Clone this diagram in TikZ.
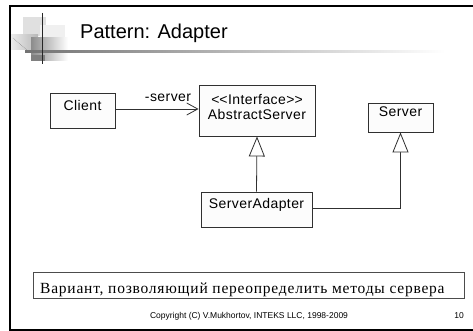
\documentclass[tikz,border=0pt]{standalone}
\usepackage{fontspec}
\setmainfont{Liberation Serif}[LetterSpace=5]
\newfontfamily\umlfont{Liberation Sans}[LetterSpace=3]
\newfontfamily\titlefont{Liberation Sans}
\newfontfamily\footfont{Liberation Sans}
\usetikzlibrary{arrows.meta,shadings}
\definecolor{boxfill}{HTML}{FCFCFC}
\definecolor{lineink}{HTML}{303030}
\tikzset{
  umlbox/.style={draw=lineink, line width=0.9pt, fill=boxfill, inner sep=0pt,
    font=\umlfont\fontsize{14}{16}\selectfont},
  umltext/.style={font=\umlfont\fontsize{14}{16}\selectfont, inner sep=0pt},
  assoc/.style={draw=lineink, line width=0.8pt, -{Straight Barb[length=11pt,width=12pt,line width=0.8pt]}},
  inherit/.style={draw=lineink, line width=0.8pt, -{Triangle[open,length=20pt,width=16pt,line width=0.8pt,fill=white]}},
}
\begin{document}
\begin{tikzpicture}[x=1pt,y=-1pt]
\useasboundingbox (0,0) rectangle (473,331);
\fill[white] (0,0) rectangle (473,331);

% decorative squares next to the title
\fill[black!12] (23,17) rectangle (46,36);
\fill[black!6] (40,25) rectangle (65,40);
\shade[left color=black!8, right color=black!28] (11,35) rectangle (38,50);
\shade[left color=black!45, right color=white] (31,38) rectangle (68,61);
\fill[black!50] (31,55) rectangle (45,61);
\draw[black!45, densely dotted, line width=0.6pt] (13,38) -- (28,51);
\shade[left color=black!55, right color=white] (25,51) rectangle (445,52.2);
\draw[black!85, line width=1.6pt] (42.5,13) -- (42.5,64);

% slide frame
\draw[black, line width=2pt] (9.5,331) -- (9.5,6) -- (473,6);
\draw[black, line width=2pt] (9.5,330) -- (473,330);

% title
\node[font=\titlefont\fontsize{20}{24}\selectfont, anchor=base west, inner sep=0pt] (title) at (80,39) {Pattern: Adapter};

% classes
\node[umlbox, minimum width=65pt, text height=18pt, text depth=17pt] (client) at (82.5,110.5) {Client};
\node[umlbox, minimum width=116pt, minimum height=51pt] (abstract) at (257,110.5) {};
\node[umltext, anchor=base] (stereo) at (257,105) {<\kern0pt<Interface>\kern0pt>};
\node[umltext, anchor=base] (abstractname) at (257,119.5) {AbstractServer};
\node[umlbox, minimum width=65pt, text height=14pt, text depth=15pt] (server) at (400.5,117.5) {Server};
\node[umlbox, minimum width=111pt, text height=16pt, text depth=19pt] (adapter) at (256.5,209.5) {ServerAdapter};

% relations
\draw[assoc] (client.east |- 0,109) -- (abstract.west |- 0,109);
\node[umltext, anchor=base] (rolename) at (168,102) {-server};
\draw[inherit] (adapter.north) -- (abstract.south);
\draw[inherit] (adapter.east |- 0,208) -| (server.south);

% note and footer
\node[draw=black!70, line width=0.9pt, minimum width=431pt, minimum height=26pt, inner sep=0pt] (notebox) at (248.5,285) {};
\node[anchor=base west, inner sep=0pt, font=\fontsize{15.5}{18}\selectfont] (notetext) at (40,293) {Вариант, позволяющий переопределить методы сервера};
\node[anchor=base, inner sep=0pt, font=\footfont\fontsize{8.5}{10}\selectfont] (footer) at (249,318) {Copyright (C) V.Mukhortov, INTEKS LLC, 1998-2009};
\node[anchor=base east, inner sep=0pt, font=\footfont\fontsize{8.5}{10}\selectfont] (pageno) at (464,318) {10};
\end{tikzpicture}
\end{document}
